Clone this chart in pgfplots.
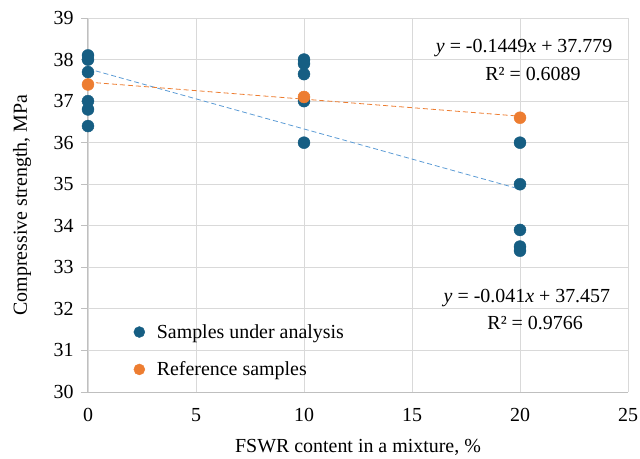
\documentclass[border=0pt]{standalone}
\usepackage{fontspec}
\setmainfont{Liberation Serif}
\usepackage{pgfplots}
\pgfplotsset{compat=1.18}

\definecolor{ptblue}{RGB}{22,94,131}
\definecolor{ptorange}{RGB}{237,125,49}
\definecolor{trblue}{RGB}{91,155,213}
\definecolor{gridgray}{RGB}{217,217,217}
\definecolor{axgray}{RGB}{191,191,191}

\newcommand{\chartfont}{\rmfamily\fontsize{20}{24}\selectfont}

\begin{document}
\begin{tikzpicture}
\begin{axis}[
  scale only axis,
  width=540bp, height=374bp,
  xmin=0, xmax=25, ymin=30, ymax=39,
  xtick={0,5,...,25}, ytick={30,31,...,39},
  axis lines=left,
  axis line style={-, axgray, line width=1bp},
  grid=major, grid style={gridgray, line width=0.9bp},
  ytick pos=left, tick align=outside, major tick length=7bp,
  ytick style={axgray, line width=1bp},
  xtick style={draw=none},
  tick label style={font=\chartfont},
  /pgf/number format/assume math mode=true,
  yticklabel style={xshift=-4bp},
  xticklabel style={yshift=-6bp},
  label style={font=\chartfont},
  xlabel={FSWR content in a mixture, \%},
  ylabel={Compressive strength, MPa},
  xlabel style={at={(axis description cs:0.5,-0.147)}, anchor=center},
  ylabel style={at={(axis description cs:-0.122,0.5)}, anchor=center},
  legend style={at={(rel axis cs:0.079,0.192)}, anchor=north west,
    draw=none, fill=none, font=\chartfont,
    row sep=18bp},
  legend cell align=left,
  legend image post style={mark size=5.5bp},
]
\addplot[only marks, mark=*, mark size=6bp, ptblue, mark options={draw=ptblue, fill=ptblue}]
  coordinates {(0,38.1) (0,38.0) (0,37.7) (0,37.0) (0,36.8) (0,36.4)
               (10,38.0) (10,37.9) (10,37.65) (10,37.0) (10,36.0)
               (20,36.0) (20,35.0) (20,33.9) (20,33.5) (20,33.4)};
\addlegendentry{\hspace{10bp}Samples under analysis}
\addplot[only marks, mark=*, mark size=6bp, ptorange, mark options={draw=ptorange, fill=ptorange}]
  coordinates {(0,37.4) (10,37.1) (20,36.6)};
\addlegendentry{\hspace{10bp}Reference samples}
\addplot[trblue, line width=0.8bp, dash pattern=on 5bp off 3bp, forget plot]
  coordinates {(0,37.779) (20,34.881)};
\addplot[ptorange, line width=0.8bp, dash pattern=on 5bp off 3bp, forget plot]
  coordinates {(0,37.457) (20,36.637)};
\node[font=\chartfont] at (axis cs:20.19,38.28) {\textit{y} = -0.1449\textit{x} + 37.779};
\node[font=\chartfont] at (axis cs:20.6,37.65) {R² = 0.6089};
\node[font=\chartfont] at (axis cs:20.32,32.26) {\textit{y} = -0.041\textit{x} + 37.457};
\node[font=\chartfont] at (axis cs:20.7,31.66) {R² = 0.9766};
\end{axis}
\pgfresetboundingbox
\path[use as bounding box] (-88bp,-67bp) rectangle (552bp,392bp);
\end{tikzpicture}
\end{document}
